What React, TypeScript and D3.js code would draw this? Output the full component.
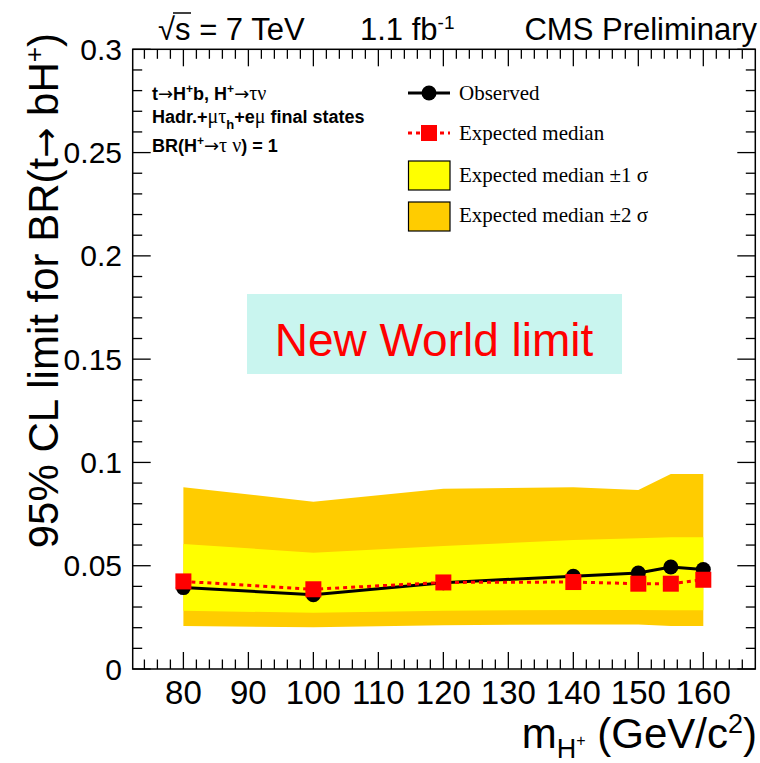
import * as d3 from 'd3';

// mass points (GeV/c^2) and limits
const masses = [80, 100, 120, 140, 150, 155, 160];
const observed = [0.0394, 0.036, 0.0418, 0.0449, 0.0465, 0.0494, 0.0482];
const expected = [0.0424, 0.0386, 0.0419, 0.0421, 0.0413, 0.0413, 0.0432];
const minus2 = [0.0208, 0.0202, 0.0212, 0.0216, 0.0216, 0.0208, 0.0208];
const minus1 = [0.0282, 0.0272, 0.0282, 0.0286, 0.0286, 0.0284, 0.0284];
const plus1 = [0.0605, 0.0563, 0.0595, 0.0624, 0.0633, 0.0638, 0.0638];
const plus2 = [0.088, 0.081, 0.0872, 0.088, 0.0867, 0.0944, 0.0944];

const xMajor = [80, 90, 100, 110, 120, 130, 140, 150, 160];
const yMajor = [0, 0.05, 0.1, 0.15, 0.2, 0.25, 0.3];

const W = 760;
const H = 763;
const L = 132.7, R = 755.3, T = 49.3, B = 669;
const sans = 'Liberation Sans, Arial, sans-serif';
const serif = 'Liberation Serif, Times New Roman, serif';
const arrowFont = 'DejaVu Sans, sans-serif';

const App = () => {
  const x = d3.scaleLinear().domain([72.2, 168]).range([L, R]);
  const y = d3.scaleLinear().domain([0, 0.3]).range([B, T]);

  const idx = masses.map((_, i) => i);
  const band = (lo: number[], hi: number[]) =>
    d3.area<number>().x(i => x(masses[i])).y0(i => y(lo[i])).y1(i => y(hi[i]))(idx) || '';
  const line = (v: number[]) => d3.line<number>().x(i => x(masses[i])).y(i => y(v[i]))(idx) || '';

  const xMinor = d3.range(74, 167, 2).filter(v => !xMajor.includes(v));
  const yMinor = d3.range(0, 0.3001, 0.01).filter(v => Math.abs((v / 0.05) - Math.round(v / 0.05)) > 1e-6);

  return (
    <div style={{ position: 'absolute', left: 0, top: 0 }}>
      <svg width={W} height={H} style={{ display: 'block', background: '#fff' }}>
        {/* bands */}
        <path d={band(minus2, plus2)} fill="#ffcc00" />
        <path d={band(minus1, plus1)} fill="#ffff00" />

        {/* info box */}
        <rect x={247} y={294} width={375} height={80} fill="#c9f5ef" />
        <text x={434} y={356} textAnchor="middle" fontFamily={sans} fontSize={46} fill="#ff0000">New World limit</text>

        {/* observed */}
        <path d={line(observed)} fill="none" stroke="#000" strokeWidth={3} />
        {masses.map((m, i) => (
          <circle key={'o' + m} cx={x(m)} cy={y(observed[i])} r={7.5} fill="#000" />
        ))}
        {/* expected */}
        <path d={line(expected)} fill="none" stroke="#ff0000" strokeWidth={3} strokeDasharray="4,4" />
        {masses.map((m, i) => (
          <rect key={'e' + m} x={x(m) - 8} y={y(expected[i]) - 8} width={16} height={16} fill="#ff0000" />
        ))}

        {/* frame */}
        <rect x={L} y={T} width={R - L} height={B - T} fill="none" stroke="#000" strokeWidth={1.5} />

        {/* x ticks, bottom and top */}
        {xMajor.map(v => (
          <g key={'xM' + v}>
            <line x1={x(v)} x2={x(v)} y1={B} y2={B - 17} stroke="#000" strokeWidth={1.3} />
            <line x1={x(v)} x2={x(v)} y1={T} y2={T + 17} stroke="#000" strokeWidth={1.3} />
            <text x={x(v)} y={704} textAnchor="middle" fontFamily={sans} fontSize={33}>{v}</text>
          </g>
        ))}
        {xMinor.map(v => (
          <g key={'xm' + v}>
            <line x1={x(v)} x2={x(v)} y1={B} y2={B - 9.5} stroke="#000" strokeWidth={1.3} />
            <line x1={x(v)} x2={x(v)} y1={T} y2={T + 9.5} stroke="#000" strokeWidth={1.3} />
          </g>
        ))}

        {/* y ticks, left and right */}
        {yMajor.map(v => (
          <g key={'yM' + v}>
            <line x1={L} x2={L + 18} y1={y(v)} y2={y(v)} stroke="#000" strokeWidth={1.3} />
            <line x1={R} x2={R - 18} y1={y(v)} y2={y(v)} stroke="#000" strokeWidth={1.3} />
            <text x={122} y={y(v) + 10.5} textAnchor="end" fontFamily={sans} fontSize={30}>{v === 0 ? '0' : String(v)}</text>
          </g>
        ))}
        {yMinor.map(v => (
          <g key={'ym' + v}>
            <line x1={L} x2={L + 9.5} y1={y(v)} y2={y(v)} stroke="#000" strokeWidth={1.3} />
            <line x1={R} x2={R - 9.5} y1={y(v)} y2={y(v)} stroke="#000" strokeWidth={1.3} />
          </g>
        ))}

        {/* header */}
        <text x={158} y={40} fontFamily={sans} fontSize={31}>
          √s = 7 TeV
        </text>
        <line x1={173} x2={191} y1={13} y2={13} stroke="#000" strokeWidth={1.5} />
        <text x={360} y={40} fontFamily={sans} fontSize={31}>
          1.1 fb<tspan dy={-11} fontSize={19}>-1</tspan>
        </text>
        <text x={757} y={40} textAnchor="end" fontFamily={sans} fontSize={31}>CMS Preliminary</text>

        {/* process text */}
        <g fontFamily={sans} fontWeight="bold" fontSize={18}>
          <text x={152} y={100}>
            t<tspan fontFamily={arrowFont} fontWeight="normal" fontSize={18}>→</tspan>H<tspan dy={-7} fontSize={12}>+</tspan>
            <tspan dy={7}>b, H</tspan><tspan dy={-7} fontSize={12}>+</tspan>
            <tspan dy={7} fontFamily={arrowFont} fontWeight="normal" fontSize={18}>→</tspan>
            <tspan fontFamily={serif} fontWeight="normal" fontSize={20}>τν</tspan>
          </text>
          <text x={152} y={123}>
            Hadr.+<tspan fontFamily={serif} fontWeight="normal" fontSize={20}>μτ</tspan>
            <tspan dy={6} fontSize={13}>h</tspan>
            <tspan dy={-6}>+e</tspan><tspan fontFamily={serif} fontWeight="normal" fontSize={20}>μ</tspan> final states
          </text>
          <text x={152} y={152}>
            BR(H<tspan dy={-7} fontSize={12}>+</tspan>
            <tspan dy={7} fontFamily={arrowFont} fontWeight="normal" fontSize={18}>→</tspan>
            <tspan fontFamily={serif} fontWeight="normal" fontSize={20}>τ ν</tspan>) = 1
          </text>
        </g>

        {/* legend */}
        <g fontFamily={serif} fontSize={21}>
          <line x1={408} x2={450} y1={93} y2={93} stroke="#000" strokeWidth={3} />
          <circle cx={429} cy={93} r={7.5} fill="#000" />
          <text x={459} y={100}>Observed</text>

          <line x1={408} x2={450} y1={133} y2={133} stroke="#ff0000" strokeWidth={3} strokeDasharray="4,4" />
          <rect x={421} y={125} width={16} height={16} fill="#ff0000" />
          <text x={459} y={140}>Expected median</text>

          <rect x={408.5} y={161} width={41.5} height={29} fill="#ffff00" stroke="#000" strokeWidth={1.2} />
          <text x={459} y={182}>Expected median ±1 σ</text>

          <rect x={408.5} y={202} width={41.5} height={29} fill="#ffcc00" stroke="#000" strokeWidth={1.2} />
          <text x={459} y={222}>Expected median ±2 σ</text>
        </g>

        {/* axis titles */}
        <text transform="translate(58,33) rotate(-90)" textAnchor="end" fontFamily={sans} fontSize={42}>
          95% CL limit for BR(t<tspan fontFamily={arrowFont} fontSize={36}>→</tspan> bH<tspan dy={-15} fontSize={26}>+</tspan><tspan dy={15}>)</tspan>
        </text>
        <text x={757} y={748} textAnchor="end" fontFamily={sans} fontSize={42}>
          m<tspan dy={10} fontSize={27}>H</tspan><tspan dy={-12} fontSize={16}>+</tspan>
          <tspan dy={2}> (GeV/c</tspan><tspan dy={-15} fontSize={27}>2</tspan><tspan dy={15}>)</tspan>
        </text>
      </svg>
    </div>
  );
};

export default App;
